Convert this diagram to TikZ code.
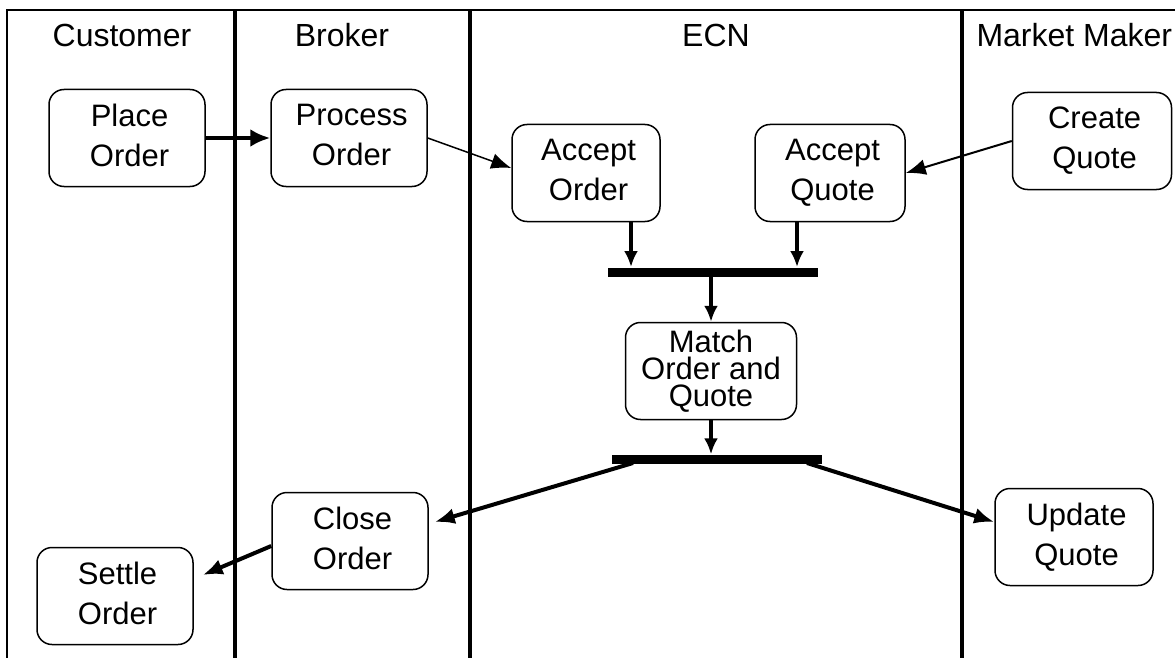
\documentclass[tikz,border=0pt]{standalone}
\usepackage{fontspec}
\setmainfont{Liberation Sans}
\usetikzlibrary{shapes, calc, arrows.meta}

\begin{document}
\begin{tikzpicture}[x=1pt, y=-1pt]
	\def \bw {156pt}
	\def \bh {97pt}
	\tikzset{
		activity/.style={draw, rectangle, rounded corners=15pt, line width=1.5pt,
			minimum width=\bw, minimum height=\bh, align=center,
			font=\fontsize{31}{40}\selectfont},
		syncbar/.style={fill=black, rectangle, inner sep=0pt,
			minimum width=210pt, minimum height=9pt},
		lanename/.style={anchor=base, font=\fontsize{32}{38}\selectfont}
	}
	\useasboundingbox (0,0) rectangle (1175,658);

	% swimlanes
	\draw[line width=1.8pt] (7,658) -- (7,10) -- (1175,10);
	\draw[line width=3.5pt] (235,10) -- (235,658);
	\draw[line width=3.5pt] (470,10) -- (470,658);
	\draw[line width=3.5pt] (962,10) -- (962,658);

	\node[lanename] (customer) at (122,47) {Customer};
	\node[lanename] (broker)   at (342,47) {Broker};
	\node[lanename] (ecn)      at (716,47) {ECN};
	\node[lanename, anchor=base west] (maker) at (973,47) {Market Maker};

	% activities
	\node[activity] (place)   at (127,138) {\,Place\\\,Order\vphantom{Q}};
	\node[activity] (process) at (349,138) {\,Process\\\,Order\vphantom{Q}};
	\node[activity, minimum width=148pt] (acceptorder) at (586,173)
		{\,Accept\\\,Order\vphantom{Q}};
	\node[activity, minimum width=150pt] (acceptquote) at (830,173)
		{\,Accept\\\,Quote};
	\node[activity, minimum width=159pt] (create) at (1092,141)
		{\,Create\\\,Quote};
	\node[syncbar] (join) at (713,272) {};
	\node[activity, minimum width=171pt, font=\fontsize{31}{27}\selectfont]
		(match) at (711,371) {Match\\Order and\\Quote};
	\node[syncbar] (fork) at (717,459) {};
	\node[activity] (close)  at (350,541) {\,Close\\\,Order\vphantom{Q}};
	\node[activity] (settle) at (115,596) {\,Settle\\\,Order\vphantom{Q}};
	\node[activity, minimum width=158pt] (update) at (1074,537)
		{\,Update\\\,Quote};

	% ends of the connectors
	\coordinate (joinL) at (631,267);
	\coordinate (joinR) at (797,267);
	\coordinate (forkL) at (633,463);
	\coordinate (forkR) at (807,463);
	\coordinate (closein)  at ($(close.east) + (6,-19)$);
	\coordinate (closeout) at ($(close.west) + (0,5)$);
	\coordinate (settlein) at ($(settle.east) + (9,-21)$);
	\coordinate (updatein) at ($(update.west) + (0,-15)$);

	% flow
	\draw[->, line width=4.5pt, >={Latex[length=20pt, width=18pt]}]
		(place) -- (process);
	\draw[->, line width=1.5pt, >={Latex[length=20pt, width=16pt]}]
		(process.east) -- ($(acceptorder.west) + (0,-5)$);
	\draw[->, line width=2pt, >={Latex[length=20pt, width=16pt]}]
		(create.west) -- (acceptquote.east);
	\draw[->, line width=3.5pt, >={Latex[length=16pt, width=14pt]}]
		(acceptorder.south -| joinL) -- (joinL);
	\draw[->, line width=3.5pt, >={Latex[length=16pt, width=14pt]}]
		(acceptquote.south -| joinR) -- (joinR);
	\draw[->, line width=3.5pt, >={Latex[length=16pt, width=14pt]}]
		(join.south -| match.north) -- (match.north);
	\draw[->, line width=3.5pt, >={Latex[length=16pt, width=14pt]}]
		(match.south) -- (match.south |- fork.north);
	\draw[->, line width=4pt, >={Latex[length=20pt, width=16pt]}]
		(forkL) -- (closein);
	\draw[->, line width=4pt, >={Latex[length=20pt, width=16pt]}]
		(forkR) -- (updatein);
	\draw[->, line width=4pt, >={Latex[length=20pt, width=16pt]}]
		(closeout) -- (settlein);
\end{tikzpicture}
\end{document}
